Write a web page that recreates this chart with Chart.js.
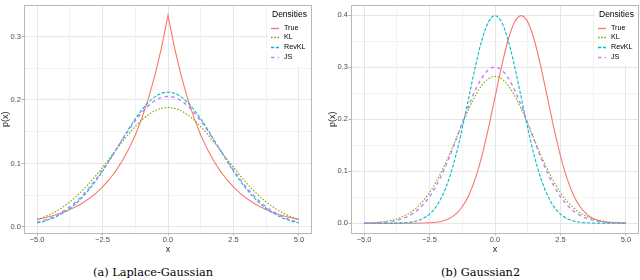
<!DOCTYPE html>
<html lang="en">
<head>
  <meta charset="UTF-8" />
  <title>Densities</title>
  <script src="https://cdn.jsdelivr.net/npm/chart.js"></script>
  <style>
    body {
      margin: 0;
      background: #ffffff;
      font-family: 'Liberation Sans', sans-serif;
    }
    .page {
      position: relative;
      width: 640px;
      height: 280px;
      overflow: hidden;
    }
    canvas {
      position: absolute;
      top: 0;
    }
    #leftChart { left: 0; }
    #rightChart { left: 320px; }
    .caption {
      position: absolute;
      top: 265px;
      font-family: 'DejaVu Serif', serif;
      font-size: 11.3px;
      line-height: 15px;
      color: #000;
      white-space: nowrap;
    }
  </style>
</head>
<body>
  <div class="page">
    <canvas id="leftChart" width="320" height="258"></canvas>
    <canvas id="rightChart" width="320" height="258"></canvas>
    <div class="caption" style="left: 93px;">(a) Laplace-Gaussian</div>
    <div class="caption" style="left: 441px;">(b) Gaussian2</div>
  </div>

  <script>
    // grid of x values shared by every curve
    const xs = [-5, -4.75, -4.5, -4.25, -4, -3.75, -3.5, -3.25, -3, -2.75, -2.5, -2.25, -2, -1.75, -1.5, -1.25, -1, -0.75, -0.5, -0.25,
                0, 0.25, 0.5, 0.75, 1, 1.25, 1.5, 1.75, 2, 2.25, 2.5, 2.75, 3, 3.25, 3.5, 3.75, 4, 4.25, 4.5, 4.75, 5];

    const seriesNames = ['True', 'KL', 'RevKL', 'JS'];

    // (a) Laplace-Gaussian
    const lapTrue = [0.0119, 0.0141, 0.0166, 0.0196, 0.0232, 0.0274, 0.0323, 0.0382, 0.0451, 0.0533, 0.0630, 0.0744, 0.0879, 0.1038, 0.1226, 0.1449, 0.1711, 0.2022, 0.2388, 0.2822,
                     0.3333, 0.2822, 0.2388, 0.2022, 0.1711, 0.1449, 0.1226, 0.1038, 0.0879, 0.0744, 0.0630, 0.0533, 0.0451, 0.0382, 0.0323, 0.0274, 0.0232, 0.0196, 0.0166, 0.0141, 0.0119];
    const lapKL = [0.0117, 0.0153, 0.0198, 0.0253, 0.0318, 0.0394, 0.0482, 0.0582, 0.0692, 0.0812, 0.0939, 0.1072, 0.1206, 0.1338, 0.1465, 0.1581, 0.1683, 0.1767, 0.1829, 0.1868,
                   0.1881, 0.1868, 0.1829, 0.1767, 0.1683, 0.1581, 0.1465, 0.1338, 0.1206, 0.1072, 0.0939, 0.0812, 0.0692, 0.0582, 0.0482, 0.0394, 0.0318, 0.0253, 0.0198, 0.0153, 0.0117];
    const lapRevKL = [0.0062, 0.0088, 0.0122, 0.0166, 0.0222, 0.0291, 0.0376, 0.0478, 0.0595, 0.0730, 0.0878, 0.1039, 0.1207, 0.1377, 0.1545, 0.1703, 0.1843, 0.1961, 0.2049, 0.2104,
                      0.2123, 0.2104, 0.2049, 0.1961, 0.1843, 0.1703, 0.1545, 0.1377, 0.1207, 0.1039, 0.0878, 0.0730, 0.0595, 0.0478, 0.0376, 0.0291, 0.0222, 0.0166, 0.0122, 0.0088, 0.0062];
    const lapJS = [0.0075, 0.0103, 0.0140, 0.0187, 0.0246, 0.0318, 0.0405, 0.0506, 0.0623, 0.0754, 0.0897, 0.1050, 0.1209, 0.1369, 0.1525, 0.1670, 0.1800, 0.1907, 0.1988, 0.2038,
                   0.2055, 0.2038, 0.1988, 0.1907, 0.1800, 0.1670, 0.1525, 0.1369, 0.1209, 0.1050, 0.0897, 0.0754, 0.0623, 0.0506, 0.0405, 0.0318, 0.0246, 0.0187, 0.0140, 0.0103, 0.0075];

    // (b) Gaussian2
    const gTrue = [0, 0, 0, 0, 0, 0, 0, 0, 0.0001, 0.0004, 0.0009, 0.0020, 0.0044, 0.0091, 0.0175, 0.0317, 0.0540, 0.0863, 0.1295, 0.1826,
                   0.2420, 0.3011, 0.3521, 0.3867, 0.3989, 0.3867, 0.3521, 0.3011, 0.2420, 0.1826, 0.1295, 0.0863, 0.0540, 0.0317, 0.0175, 0.0091, 0.0044, 0.0020, 0.0009, 0.0004, 0.0001];
    const gKL = [0.0005, 0.0010, 0.0018, 0.0031, 0.0052, 0.0084, 0.0132, 0.0201, 0.0297, 0.0426, 0.0591, 0.0796, 0.1038, 0.1312, 0.1607, 0.1909, 0.2197, 0.2451, 0.2650, 0.2777,
                 0.2821, 0.2777, 0.2650, 0.2451, 0.2197, 0.1909, 0.1607, 0.1312, 0.1038, 0.0796, 0.0591, 0.0426, 0.0297, 0.0201, 0.0132, 0.0084, 0.0052, 0.0031, 0.0018, 0.0010, 0.0005];
    const gRevKL = [0, 0, 0, 0, 0.0001, 0.0004, 0.0009, 0.0020, 0.0044, 0.0091, 0.0175, 0.0317, 0.0540, 0.0863, 0.1295, 0.1826, 0.2420, 0.3011, 0.3521, 0.3867,
                    0.3989, 0.3867, 0.3521, 0.3011, 0.2420, 0.1826, 0.1295, 0.0863, 0.0540, 0.0317, 0.0175, 0.0091, 0.0044, 0.0020, 0.0009, 0.0004, 0.0001, 0, 0, 0, 0];
    const gJS = [0.0003, 0.0005, 0.0010, 0.0018, 0.0033, 0.0056, 0.0094, 0.0152, 0.0236, 0.0354, 0.0513, 0.0718, 0.0969, 0.1263, 0.1589, 0.1929, 0.2262, 0.2559, 0.2795, 0.2948,
                 0.3000, 0.2948, 0.2795, 0.2559, 0.2262, 0.1929, 0.1589, 0.1263, 0.0969, 0.0718, 0.0513, 0.0354, 0.0236, 0.0152, 0.0094, 0.0056, 0.0033, 0.0018, 0.0010, 0.0005, 0.0003];

    // ticks (major get labels, minor only a light grid line)
    const xTicks = [-5, -3.75, -2.5, -1.25, 0, 1.25, 2.5, 3.75, 5];
    const xMajor = [-5, -2.5, 0, 2.5, 5];
    const xLabels = ['\u22125.0', '\u22122.5', '0.0', '2.5', '5.0'];
    const yTicksA = [0, 0.05, 0.1, 0.15, 0.2, 0.25, 0.3];
    const yTicksB = [0, 0.05, 0.1, 0.15, 0.2, 0.25, 0.3, 0.35, 0.4];
    const yMajor = [0, 0.1, 0.2, 0.3, 0.4];

    const colors = ['#F8766D', '#7CAE00', '#00BFC4', '#C77CFF'];
    const dashes = [[], [1.6, 1.6], [3.4, 1.6], [3.4, 3.4]];
    const widths = [1.1, 1.1, 1.1, 1.4];

    const FONT = "'Liberation Sans', sans-serif";

    const isYMajor = v => yMajor.some(m => Math.abs(m - v) < 1e-9);

    // grey frame round the panel, like ggplot's panel.border
    const panelBorder = {
      id: 'panelBorder',
      beforeDatasetsDraw(chart) {
        const { ctx, chartArea: a } = chart;
        ctx.save();
        ctx.strokeStyle = '#b8b8b8';
        ctx.lineWidth = 1;
        ctx.strokeRect(Math.round(a.left) + 0.5, Math.round(a.top) + 0.5,
                       Math.round(a.right - a.left) - 1, Math.round(a.bottom - a.top) - 1);
        ctx.restore();
      }
    };

    // legend drawn inside the top right corner of the panel
    const insideLegend = {
      id: 'insideLegend',
      afterDraw(chart, args, opts) {
        const { ctx, chartArea: a } = chart;
        const r = a.right;
        ctx.save();
        ctx.fillStyle = '#ffffff';
        ctx.fillRect(r - 44, a.top + 1, 43, 60);
        ctx.fillStyle = '#000000';
        ctx.textAlign = 'left';
        ctx.textBaseline = 'middle';
        ctx.font = '8.5px ' + FONT;
        ctx.fillText(opts.title, r - 40, a.top + 10);
        seriesNames.forEach((name, i) => {
          const y = Math.round(a.top + 22.7 + i * 9.7) + 0.5;
          ctx.strokeStyle = colors[i];
          ctx.lineWidth = widths[i] + 0.2;
          ctx.setLineDash(dashes[i]);
          ctx.beginPath();
          ctx.moveTo(r - 41, y);
          ctx.lineTo(r - 33, y);
          ctx.stroke();
          ctx.setLineDash([]);
          ctx.fillStyle = '#000000';
          ctx.font = '7.2px ' + FONT;
          ctx.fillText(name, r - 28, y);
        });
        ctx.restore();
      }
    };

    function buildDatasets(seriesList, sharpFirst) {
      return seriesList.map((ys, i) => ({
        label: seriesNames[i],
        data: xs.map((x, j) => ({ x: x, y: ys[j] })),
        borderColor: colors[i],
        borderWidth: widths[i],
        borderDash: dashes[i],
        pointRadius: 0,
        cubicInterpolationMode: (sharpFirst && i === 0) ? 'default' : 'monotone',
        tension: (sharpFirst && i === 0) ? 0 : 0.4,
        fill: false,
        order: seriesList.length - i
      }));
    }

    function makeChart(id, seriesList, sharpFirst, yTicks, yMin, yMax, yAxisWidth, titlePad, rightPad) {
      return new Chart(document.getElementById(id), {
        type: 'line',
        data: { datasets: buildDatasets(seriesList, sharpFirst) },
        plugins: [panelBorder, insideLegend],
        options: {
          responsive: false,
          animation: false,
          layout: { padding: { top: 0, right: rightPad, bottom: 0, left: 0 } },
          plugins: {
            legend: { display: false },
            tooltip: { enabled: false },
            insideLegend: { title: 'Densities' }
          },
          scales: {
            x: {
              type: 'linear',
              min: -5.5,
              max: 5.5,
              afterBuildTicks: s => { s.ticks = xTicks.map(v => ({ value: v })); },
              afterFit: s => { s.height = 24.5; },
              ticks: {
                autoSkip: false,
                maxRotation: 0,
                padding: 0,
                color: '#4d4d4d',
                font: { family: FONT, size: 7.5 },
                callback: v => {
                  const k = xMajor.indexOf(v);
                  return k >= 0 ? xLabels[k] : '';
                }
              },
              grid: {
                color: c => (c.tick && xMajor.includes(c.tick.value)) ? '#e6e6e6' : '#f3f3f3',
                tickColor: c => (c.tick && xMajor.includes(c.tick.value)) ? '#b3b3b3' : 'rgba(0,0,0,0)',
                tickLength: 2
              },
              border: { display: false },
              title: {
                display: true,
                text: 'x',
                color: '#1a1a1a',
                font: { family: FONT, size: 9 },
                padding: { top: 0, bottom: 3.5 }
              }
            },
            y: {
              type: 'linear',
              min: yMin,
              max: yMax,
              afterBuildTicks: s => { s.ticks = yTicks.map(v => ({ value: v })); },
              afterFit: s => { s.width = yAxisWidth; },
              ticks: {
                padding: 0.5,
                color: '#4d4d4d',
                font: { family: FONT, size: 7.5 },
                callback: v => isYMajor(v) ? v.toFixed(1) : ''
              },
              grid: {
                color: c => (c.tick && isYMajor(c.tick.value)) ? '#e6e6e6' : '#f3f3f3',
                tickColor: c => (c.tick && isYMajor(c.tick.value)) ? '#b3b3b3' : 'rgba(0,0,0,0)',
                tickLength: 2.5
              },
              border: { display: false },
              title: {
                display: true,
                text: 'p(x)',
                color: '#1a1a1a',
                font: { family: FONT, size: 9 },
                padding: { top: titlePad, bottom: 0 }
              }
            }
          }
        }
      });
    }

    makeChart('leftChart', [lapTrue, lapKL, lapRevKL, lapJS], true, yTicksA, -0.0103, 0.3496, 24, 0, 8);
    makeChart('rightChart', [gTrue, gKL, gRevKL, gJS], false, yTicksB, -0.0197, 0.4194, 31, 7.5, 1);
  </script>
</body>
</html>
